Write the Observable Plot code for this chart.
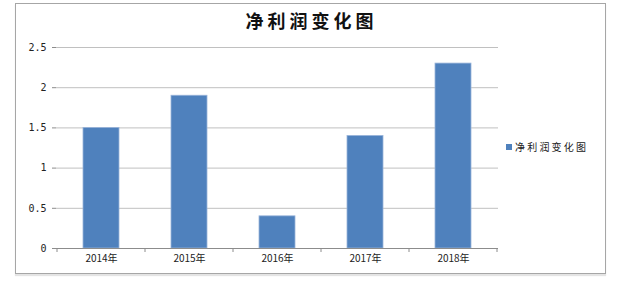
<!DOCTYPE html>
<html>
<head>
<meta charset="utf-8">
<script src="https://cdn.jsdelivr.net/npm/d3@7"></script>
<script src="https://cdn.jsdelivr.net/npm/@observablehq/plot@0.6"></script>
<style>
  html, body { margin: 0; padding: 0; background: #fff; }
  #wrap { position: relative; width: 619px; height: 283px; overflow: hidden; }
  #frame { position: absolute; left: 15px; top: 3px; width: 589px; height: 269px; border: 1px solid #a6a6a6; box-shadow: 0 2px 1px #e4e4e4; }
  #title { position: absolute; left: 0; width: 619px; top: 7px; text-align: center; padding-left: 4px; box-sizing: border-box;
           font-family: "Noto Sans CJK SC", sans-serif; font-weight: bold; font-size: 18px; letter-spacing: 4px; color: #111; }
  #legend { position: absolute; left: 506px; top: 139px; font-family: "Noto Sans CJK SC", sans-serif; font-size: 10px; letter-spacing: 2.2px; color: #222; display: flex; align-items: center; }
  #legend .sw { width: 6px; height: 6px; background: #4F81BD; margin-right: 3px; }
  #chart { position: absolute; left: 0; top: 0; }
</style>
</head>
<body>
<div id="wrap">
  <div id="frame"></div>
  <div id="chart"></div>
  <div id="title"></div>
  <div id="legend"><span class="sw"></span><span id="legtext"></span></div>
</div>
<script>
const titleText = "净利润变化图";
const seriesName = "净利润变化图";
const years = ["2014年", "2015年", "2016年", "2017年", "2018年"];
const values = [1.5, 1.9, 0.4, 1.4, 2.3];
const yTicks = [0, 0.5, 1, 1.5, 2, 2.5];

const data = years.map((y, i) => ({year: y, value: values[i]}));

document.getElementById("title").textContent = titleText;
document.getElementById("legtext").textContent = seriesName;

const plot = Plot.plot({
  width: 619,
  height: 283,
  marginLeft: 56,
  marginRight: 121,
  marginTop: 47,
  marginBottom: 35,
  style: { background: "transparent", fontFamily: "'DejaVu Sans Mono', monospace", fontSize: "10px", color: "#222" },
  x: { domain: years, paddingInner: 0.59, paddingOuter: 0.295, label: null },
  y: { domain: [0, 2.5], label: null },
  marks: [
    Plot.gridY(yTicks, { stroke: "#c0c0c0", strokeOpacity: 1 }),
    Plot.barY(data, { x: "year", y: "value", fill: "#4F81BD", stroke: "#9ab5da", strokeWidth: 0.8 }),
    Plot.ruleY([0], { stroke: "#8c8c8c" }),
    Plot.axisY({ ticks: yTicks, tickSize: 4, stroke: "#8c8c8c", tickPadding: 6, tickFormat: d => String(d), fill: "#222" }),
    Plot.ruleX([0], { frameAnchor: "left", stroke: "#8c8c8c" }),
    Plot.axisX({ tickSize: 0, tickPadding: 6, fill: "#222", fontFamily: "'Noto Sans CJK SC', sans-serif", fontSize: 10 })
  ]
});
document.getElementById("chart").appendChild(plot);

// category-boundary tick marks below the baseline, positioned from Plot's x and y scales
const xs = plot.scale("x");
const ysc = plot.scale("y");
const y0 = ysc.apply(0);
const half = (xs.step - xs.bandwidth) / 2;
const bounds = years.map(v => xs.apply(v) - half).concat([xs.apply(years[years.length - 1]) + xs.bandwidth + half]);
d3.select(plot).append("g")
  .selectAll("line").data(bounds).join("line")
  .attr("x1", d => d).attr("x2", d => d)
  .attr("y1", y0).attr("y2", y0 + 4)
  .attr("stroke", "#8c8c8c");
</script>
</body>
</html>
